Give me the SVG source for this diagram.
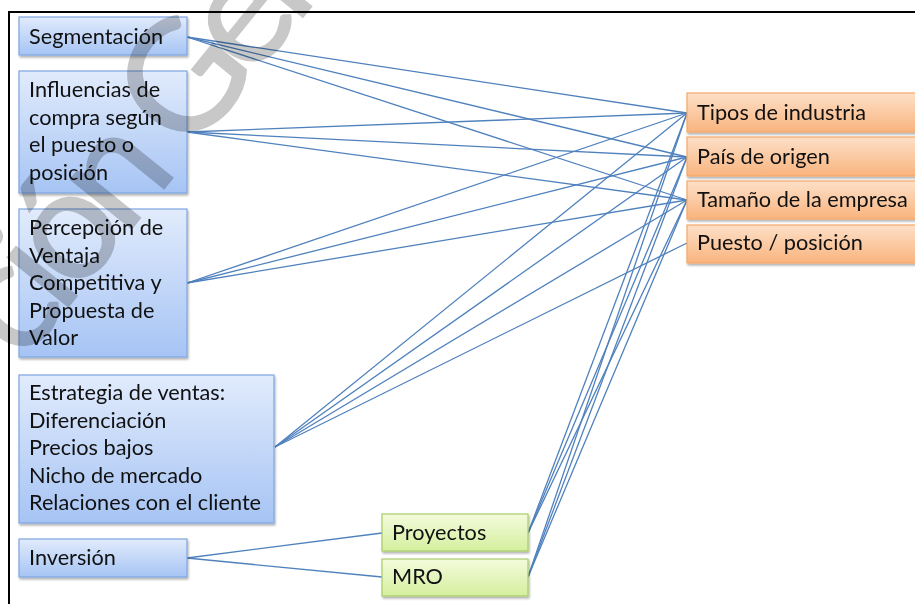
<svg xmlns="http://www.w3.org/2000/svg" width="915" height="604" viewBox="0 0 915 604">
<defs>
<linearGradient id="gBlue" x1="0" y1="0" x2="0" y2="1"><stop offset="0" stop-color="#e1ebfc"/><stop offset="1" stop-color="#a6c4f4"/></linearGradient>
<linearGradient id="gOrange" x1="0" y1="0" x2="0" y2="1"><stop offset="0" stop-color="#fde0c8"/><stop offset="1" stop-color="#f9b47e"/></linearGradient>
<linearGradient id="gGreen" x1="0" y1="0" x2="0" y2="1"><stop offset="0" stop-color="#f4fbdc"/><stop offset="1" stop-color="#d4ef9e"/></linearGradient>
<filter id="sh" x="-10%" y="-10%" width="120%" height="130%"><feDropShadow dx="1" dy="2" stdDeviation="1.2" flood-color="#000" flood-opacity="0.3"/></filter>
</defs>
<style>
.t{font-family:Lato,"Open Sans",sans-serif;font-size:21.7px;fill:#111}
.b{fill:url(#gBlue);stroke:#7ea6e2;stroke-width:1.2;filter:url(#sh)}
.o{fill:url(#gOrange);stroke:#f5a868;stroke-width:1.2;filter:url(#sh)}
.g{fill:url(#gGreen);stroke:#a8cc6a;stroke-width:1.2;filter:url(#sh)}
.c line{stroke:#4f81bd;stroke-width:1.3}
.wm{font-family:Lato,"Liberation Sans",sans-serif;font-size:155px;letter-spacing:-12px;fill:#c8c8c8;stroke:#c8c8c8;stroke-width:1.5;mix-blend-mode:multiply}
</style>
<rect x="0" y="0" width="915" height="604" fill="#fff"/>
<rect x="9" y="12" width="930" height="620" fill="none" stroke="#000" stroke-width="2"/>
<g id="connectors" class="c">
<line x1="187" y1="37" x2="687" y2="113"/>
<line x1="187" y1="37" x2="687" y2="157"/>
<line x1="187" y1="37" x2="687" y2="200"/>
<line x1="187" y1="132" x2="687" y2="113"/>
<line x1="187" y1="132" x2="687" y2="157"/>
<line x1="187" y1="132" x2="687" y2="200"/>
<line x1="187" y1="283" x2="687" y2="113"/>
<line x1="187" y1="283" x2="687" y2="157"/>
<line x1="187" y1="283" x2="687" y2="200"/>
<line x1="275" y1="447" x2="687" y2="113"/>
<line x1="275" y1="447" x2="687" y2="157"/>
<line x1="275" y1="447" x2="687" y2="200"/>
<line x1="275" y1="447" x2="687" y2="243"/>
<line x1="528" y1="533" x2="687" y2="113"/>
<line x1="528" y1="533" x2="687" y2="157"/>
<line x1="528" y1="533" x2="687" y2="200"/>
<line x1="528" y1="577" x2="687" y2="113"/>
<line x1="528" y1="577" x2="687" y2="157"/>
<line x1="528" y1="577" x2="687" y2="200"/>
<line x1="187" y1="558" x2="382" y2="533"/>
<line x1="187" y1="558" x2="382" y2="577"/>
</g>
<g id="segmentacion"><rect class="b" x="19" y="17" width="168" height="38"/><text class="t" x="29" y="44">Segmentación</text></g>
<g id="influencias"><rect class="b" x="19" y="71" width="168" height="122"/><text class="t"><tspan x="29" y="97">Influencias de</tspan><tspan x="29" y="124.5">compra según</tspan><tspan x="29" y="152">el puesto o</tspan><tspan x="29" y="179.5">posición</tspan></text></g>
<g id="percepcion"><rect class="b" x="19" y="209" width="168" height="148"/><text class="t"><tspan x="29" y="235">Percepción de</tspan><tspan x="29" y="262.5">Ventaja</tspan><tspan x="29" y="290">Competitiva y</tspan><tspan x="29" y="317.5">Propuesta de</tspan><tspan x="29" y="345">Valor</tspan></text></g>
<g id="estrategia"><rect class="b" x="19" y="375" width="255" height="148"/><text class="t"><tspan x="29" y="400">Estrategia de ventas:</tspan><tspan x="29" y="427.5">Diferenciación</tspan><tspan x="29" y="455">Precios bajos</tspan><tspan x="29" y="482.5">Nicho de mercado</tspan><tspan x="29" y="510">Relaciones con el cliente</tspan></text></g>
<g id="inversion"><rect class="b" x="19" y="539" width="168" height="38"/><text class="t" x="29" y="565">Inversión</text></g>
<g id="proyectos"><rect class="g" x="382" y="514" width="146" height="37"/><text class="t" x="392" y="540">Proyectos</text></g>
<g id="mro"><rect class="g" x="382" y="559" width="146" height="37"/><text class="t" x="392" y="584">MRO</text></g>
<g id="tipos"><rect class="o" x="687" y="93" width="240" height="39"/><text class="t" x="697" y="120">Tipos de industria</text></g>
<g id="pais"><rect class="o" x="687" y="137" width="240" height="39"/><text class="t" x="697" y="164">País de origen</text></g>
<g id="tamano"><rect class="o" x="687" y="181" width="240" height="38"/><text class="t" x="697" y="207">Tamaño de la empresa</text></g>
<g id="puesto"><rect class="o" x="687" y="225" width="240" height="38"/><text class="t" x="697" y="250">Puesto / posición</text></g>
<text class="wm" transform="translate(22,364) rotate(-51)">ción General</text>
</svg>
